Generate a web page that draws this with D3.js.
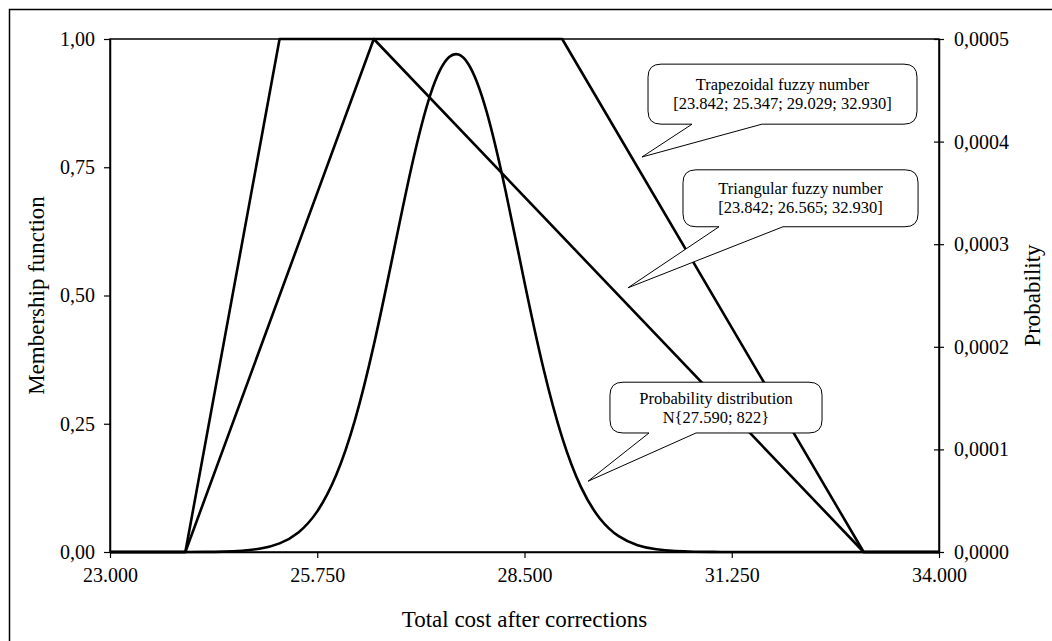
<!DOCTYPE html>
<html>
<head>
<meta charset="utf-8">
<script src="https://cdn.jsdelivr.net/npm/d3@7"></script>
<style>
body { margin: 0; background: #fff; }
text { font-family: "Liberation Serif", "Times New Roman", serif; fill: #000; }
</style>
</head>
<body>
<script>
// tick values
var costTicks = [23000, 25750, 28500, 31250, 34000];
var memTicks = [0, 0.25, 0.5, 0.75, 1];
var probTicks = [0, 0.0001, 0.0002, 0.0003, 0.0004, 0.0005];

// trapezoidal fuzzy number (vertices as drawn)
var trapCost = [23000, 24000, 25250, 29000, 33000, 34000];
var trapMem = [0, 0, 1, 1, 0, 0];

// triangular fuzzy number
var triCost = [23000, 24000, 26500, 33000, 34000];
var triMem = [0, 0, 1, 0, 0];

// probability distribution N{27.590; 822}
var probCost = [23000, 23250, 23500, 23750, 24000, 24250, 24500, 24750, 25000, 25250,
                25500, 25750, 26000, 26250, 26500, 26750, 27000, 27250, 27500, 27750,
                28000, 28250, 28500, 28750, 29000, 29250, 29500, 29750, 30000, 30250,
                30500, 30750, 31000, 31250, 31500, 31750, 32000, 32250, 32500, 32750,
                33000, 33250, 33500, 33750, 34000];
var probValue = [0, 0, 0, 0.00000001, 0.00000004, 0.00000013, 0.00000041, 0.00000124, 0.00000339, 0.00000844,
                 0.0000191, 0.0000396, 0.0000747, 0.0001285, 0.0002016, 0.0002879, 0.0003750, 0.0004456, 0.0004824, 0.0004762,
                 0.0004285, 0.0003516, 0.0002630, 0.0001793, 0.0001115, 0.0000632, 0.0000327, 0.0000154, 0.0000066, 0.0000026,
                 0.0000009, 0.0000003, 0.0000001, 0, 0, 0, 0, 0, 0, 0,
                 0, 0, 0, 0, 0];

// callout texts
var calloutText = [
  ["Trapezoidal fuzzy number", "[23.842; 25.347; 29.029; 32.930]"],
  ["Triangular fuzzy number", "[23.842; 26.565; 32.930]"],
  ["Probability distribution", "N{27.590; 822}"]
];

var dim = { w: 1052, h: 641, left: 110, right: 939, top: 39, bottom: 552 };

var loc = d3.formatLocale({ decimal: ",", thousands: ".", grouping: [3], currency: ["", ""] });
var fmtCost = loc.format(",.0f");
var fmtMem = loc.format(".2f");
var fmtProb = loc.format(".4f");

var svg = d3.select("body").append("svg")
  .attr("width", dim.w)
  .attr("height", dim.h);

// outer frame
svg.append("rect")
  .attr("x", 9.5).attr("y", 9.5)
  .attr("width", 1100).attr("height", 700)
  .attr("fill", "none").attr("stroke", "#000").attr("stroke-width", 1.5);

var x = d3.scaleLinear().domain([23000, 34000]).range([dim.left, dim.right]);
var yMem = d3.scaleLinear().domain([0, 1]).range([dim.bottom, dim.top]);
var yProb = d3.scaleLinear().domain([0, 0.0005]).range([dim.bottom, dim.top]);

// plot area border
svg.append("rect")
  .attr("x", dim.left).attr("y", dim.top)
  .attr("width", dim.right - dim.left).attr("height", dim.bottom - dim.top)
  .attr("fill", "none").attr("stroke", "#000").attr("stroke-width", 1.5);

// lines
var memLine = d3.line()
  .x(function(d) { return x(d[0]); })
  .y(function(d) { return yMem(d[1]); });

var probLine = d3.line()
  .x(function(d) { return x(d[0]); })
  .y(function(d) { return yProb(d[1]); })
  .curve(d3.curveNatural);

svg.append("path")
  .datum(d3.zip(trapCost, trapMem))
  .attr("d", memLine)
  .attr("fill", "none").attr("stroke", "#000").attr("stroke-width", 2.6)
  .attr("stroke-linejoin", "round");

svg.append("path")
  .datum(d3.zip(triCost, triMem))
  .attr("d", memLine)
  .attr("fill", "none").attr("stroke", "#000").attr("stroke-width", 2.6)
  .attr("stroke-linejoin", "round");

svg.append("path")
  .datum(d3.zip(probCost, probValue))
  .attr("d", probLine)
  .attr("fill", "none").attr("stroke", "#000").attr("stroke-width", 2.6);

// axes
function styleAxis(g) {
  g.attr("font-family", null).attr("font-size", null);
  g.select(".domain").attr("stroke-width", 1.5);
  g.selectAll(".tick line").attr("stroke-width", 1.2);
  g.selectAll("text").style("font-size", "20px");
}

svg.append("g")
  .attr("transform", "translate(0," + dim.bottom + ")")
  .call(d3.axisBottom(x).tickValues(costTicks).tickFormat(fmtCost).tickSize(6).tickSizeOuter(0).tickPadding(10))
  .call(styleAxis);

svg.append("g")
  .attr("transform", "translate(" + dim.left + ",0)")
  .call(d3.axisLeft(yMem).tickValues(memTicks).tickFormat(fmtMem).tickSize(6).tickSizeOuter(0).tickPadding(9))
  .call(styleAxis);

var rightAxis = svg.append("g")
  .attr("transform", "translate(" + dim.right + ",0)")
  .call(d3.axisRight(yProb).tickValues(probTicks).tickFormat(fmtProb).tickSize(5).tickSizeOuter(0).tickPadding(10))
  .call(styleAxis);
rightAxis.selectAll(".tick line").attr("x1", -5);

// axis titles
svg.append("text")
  .attr("x", (dim.left + dim.right) / 2)
  .attr("y", 627)
  .attr("text-anchor", "middle")
  .style("font-size", "23px")
  .text("Total cost after corrections");

svg.append("text")
  .attr("transform", "translate(44," + (dim.top + dim.bottom) / 2 + ") rotate(-90)")
  .attr("text-anchor", "middle")
  .style("font-size", "23px")
  .text("Membership function");

svg.append("text")
  .attr("transform", "translate(1040," + (dim.top + dim.bottom) / 2 + ") rotate(-90)")
  .attr("text-anchor", "middle")
  .style("font-size", "23px")
  .text("Probability");

// callouts, anchored in data units (cost, membership)
var callouts = [
  { box: [30139, 0.951, 33708, 0.834], wedge: [30723, 31651], tip: [30059, 0.770] },
  { box: [30603, 0.745, 33722, 0.634], wedge: [31081, 31930], tip: [29873, 0.515] },
  { box: [29634, 0.331, 32448, 0.232], wedge: [30152, 30776], tip: [29343, 0.138] }
];

function calloutPath(c) {
  var x0 = x(c.box[0]), y0 = yMem(c.box[1]), x1 = x(c.box[2]), y1 = yMem(c.box[3]);
  var wa = x(c.wedge[0]), wb = x(c.wedge[1]);
  var tx = x(c.tip[0]), ty = yMem(c.tip[1]);
  var r = 13;
  return "M" + (x0 + r) + "," + y0 +
    "H" + (x1 - r) + "Q" + x1 + "," + y0 + " " + x1 + "," + (y0 + r) +
    "V" + (y1 - r) + "Q" + x1 + "," + y1 + " " + (x1 - r) + "," + y1 +
    "H" + wb + "L" + tx + "," + ty + "L" + wa + "," + y1 +
    "H" + (x0 + r) + "Q" + x0 + "," + y1 + " " + x0 + "," + (y1 - r) +
    "V" + (y0 + r) + "Q" + x0 + "," + y0 + " " + (x0 + r) + "," + y0 + "Z";
}

var callout = svg.selectAll(".callout")
  .data(callouts)
  .enter()
  .append("g")
  .attr("class", "callout");

callout.append("path")
  .attr("d", calloutPath)
  .attr("fill", "#fff").attr("stroke", "#000").attr("stroke-width", 1);

callout.append("text")
  .attr("text-anchor", "middle")
  .style("font-size", "16.5px")
  .each(function(d, i) {
    var cx = (x(d.box[0]) + x(d.box[2])) / 2;
    var cy = (yMem(d.box[1]) + yMem(d.box[3])) / 2;
    var t = d3.select(this);
    t.append("tspan").attr("x", cx).attr("y", cy - 4).text(calloutText[i][0]);
    t.append("tspan").attr("x", cx).attr("y", cy + 15).text(calloutText[i][1]);
  });
</script>
</body>
</html>
